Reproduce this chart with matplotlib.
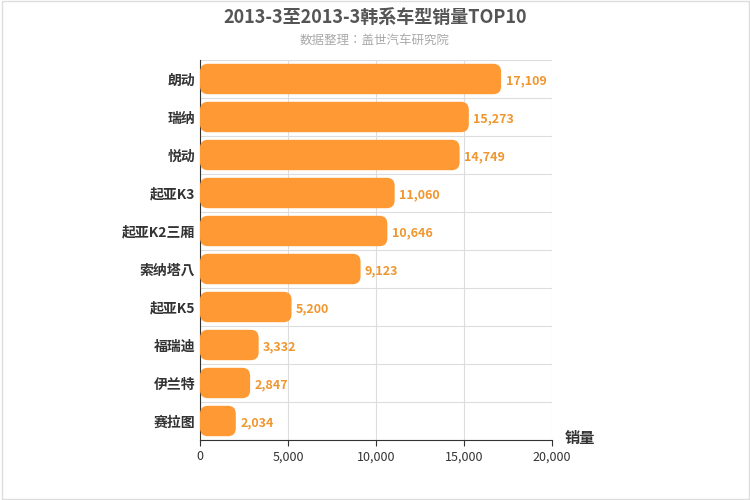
import matplotlib
matplotlib.use("Agg")
import matplotlib.pyplot as plt
from matplotlib.patches import FancyBboxPatch
from matplotlib import font_manager as fm

cjk = [f.name for f in fm.fontManager.ttflist if 'CJK' in f.name]
cjkname = 'Noto Sans CJK SC' if 'Noto Sans CJK SC' in cjk else (cjk[0] if cjk else 'DejaVu Sans')
plt.rcParams['font.family'] = 'sans-serif'
plt.rcParams['font.sans-serif'] = [cjkname, 'DejaVu Sans']

categories = ["朗动", "瑞纳", "悦动", "起亚K3", "起亚K2三厢", "索纳塔八", "起亚K5", "福瑞迪", "伊兰特", "赛拉图"]
values = [17109, 15273, 14749, 11060, 10646, 9123, 5200, 3332, 2847, 2034]
xticks = [0, 5000, 10000, 15000, 20000]

fig = plt.figure(figsize=(7.5, 5), dpi=100)
ax = fig.add_axes([200/750, 60/500, 352/750, 380/500])
n = len(categories)
ax.set_xlim(0, 20000)
ax.set_ylim(n, 0)
color = '#FF9933'
xpp = 20000/352
ypp = n/380
for i, v in enumerate(values):
    h = 0.8
    p = FancyBboxPatch((0, i + 0.1), v, h, boxstyle="round,pad=0,rounding_size=450",
                       mutation_aspect=ypp/xpp, fc=color, ec='none', zorder=3)
    ax.add_patch(p)
    ax.text(v + 250, i + 0.55, f"{v:,}", color='#F0962E', fontsize=9, fontweight='bold',
            va='center', ha='left', zorder=4)
ax.set_yticks([i + 0.5 for i in range(n)])
ax.set_yticklabels(categories, fontsize=10, fontweight='bold', color='#333333')
ax.set_xticks(xticks)
ax.set_xticklabels([f"{t:,}" for t in xticks], fontsize=9, color='#333333')
for x in xticks:
    ax.axvline(x, color='#DDDDDD', lw=0.8, zorder=0)
for i in range(n + 1):
    ax.axhline(i, color='#DDDDDD', lw=0.8, zorder=0)
for s in ax.spines.values():
    s.set_visible(False)
ax.spines['bottom'].set_visible(True)
ax.spines['bottom'].set_color('#333333')
ax.spines['left'].set_visible(True)
ax.spines['left'].set_color('#333333')
ax.tick_params(axis='y', length=0)
ax.tick_params(axis='x', length=4, color='#333333')

fig.text(0.5, 0.965, "2013-3至2013-3韩系车型销量TOP10", ha='center', va='center',
         fontsize=13, fontweight='bold', color='#555555')
fig.text(0.5, 0.92, "数据整理：盖世汽车研究院", ha='center', va='center', fontsize=9, color='#AAAAAA')
fig.text(580/750, 1 - 438/500, "销量", ha='center', va='center', fontsize=11, fontweight='bold', color='#333333')
fig.patches.append(plt.Rectangle((0.002, 0.002), 0.996, 0.996, transform=fig.transFigure,
                                 fill=False, ec='#DDDDDD', lw=1))
fig.savefig("out.png", dpi=100)
